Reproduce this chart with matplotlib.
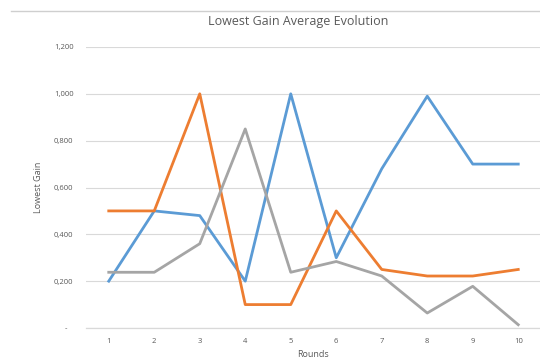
import matplotlib.pyplot as plt
from matplotlib.ticker import FuncFormatter
from matplotlib.lines import Line2D

plt.rcParams['font.family'] = ['Open Sans', 'DejaVu Sans']

rounds = [1, 2, 3, 4, 5, 6, 7, 8, 9, 10]
blue = [0.2, 0.5, 0.48, 0.2, 1.0, 0.3, 0.68, 0.99, 0.7, 0.7]
orange = [0.5, 0.5, 1.0, 0.1, 0.1, 0.5, 0.25, 0.222, 0.222, 0.25]
gray = [0.238, 0.238, 0.36, 0.85, 0.238, 0.284, 0.222, 0.064, 0.178, 0.014]

yticks = [0, 0.2, 0.4, 0.6, 0.8, 1.0, 1.2]

txt = '#595959'
grid = '#d9d9d9'

fig = plt.figure(figsize=(5.4, 3.6), dpi=100)
ax = fig.add_axes([86/540, 1 - 328/360, 455/540, (328 - 47)/360])

x = range(len(rounds))
ax.plot(x, blue, color='#5B9BD5', lw=2, solid_joinstyle='round', zorder=3)
ax.plot(x, orange, color='#ED7D31', lw=2, solid_joinstyle='round', zorder=3)
ax.plot(x, gray, color='#A5A5A5', lw=2, solid_joinstyle='round', zorder=3)

ax.set_xlim(-0.5, len(rounds) - 0.5)
ax.set_ylim(0, 1.2)
ax.set_xticks(list(x))
ax.set_xticklabels([str(r) for r in rounds])
ax.set_yticks(yticks)


def fmt(v, pos):
    if abs(v) < 1e-9:
        return '-   '
    return f'{v:.3f}'.replace('.', ',')


ax.yaxis.set_major_formatter(FuncFormatter(fmt))
ax.grid(axis='y', color=grid, lw=0.8)
ax.set_axisbelow(True)
for s in ['top', 'right', 'left']:
    ax.spines[s].set_visible(False)
ax.spines['bottom'].set_color(grid)
ax.spines['bottom'].set_linewidth(0.9)
ax.tick_params(length=0, labelsize=5.5, labelcolor=txt)
ax.tick_params(axis='y', pad=9)
ax.tick_params(axis='x', pad=7)

ax.set_ylabel('Lowest Gain', fontsize=6.5, color=txt, labelpad=8)
ax.set_xlabel('Rounds', fontsize=6.5, color=txt, labelpad=4)

fig.text(298/540, 1 - 22/360, 'Lowest Gain Average Evolution', ha='center',
         va='center', fontsize=9, color=txt)

# chart border (top edge visible)
fig.add_artist(Line2D([11/540, 1], [1 - 10.5/360, 1 - 10.5/360],
                      transform=fig.transFigure, color='#cfcfcf', lw=1))

fig.savefig('out.png', dpi=100)
